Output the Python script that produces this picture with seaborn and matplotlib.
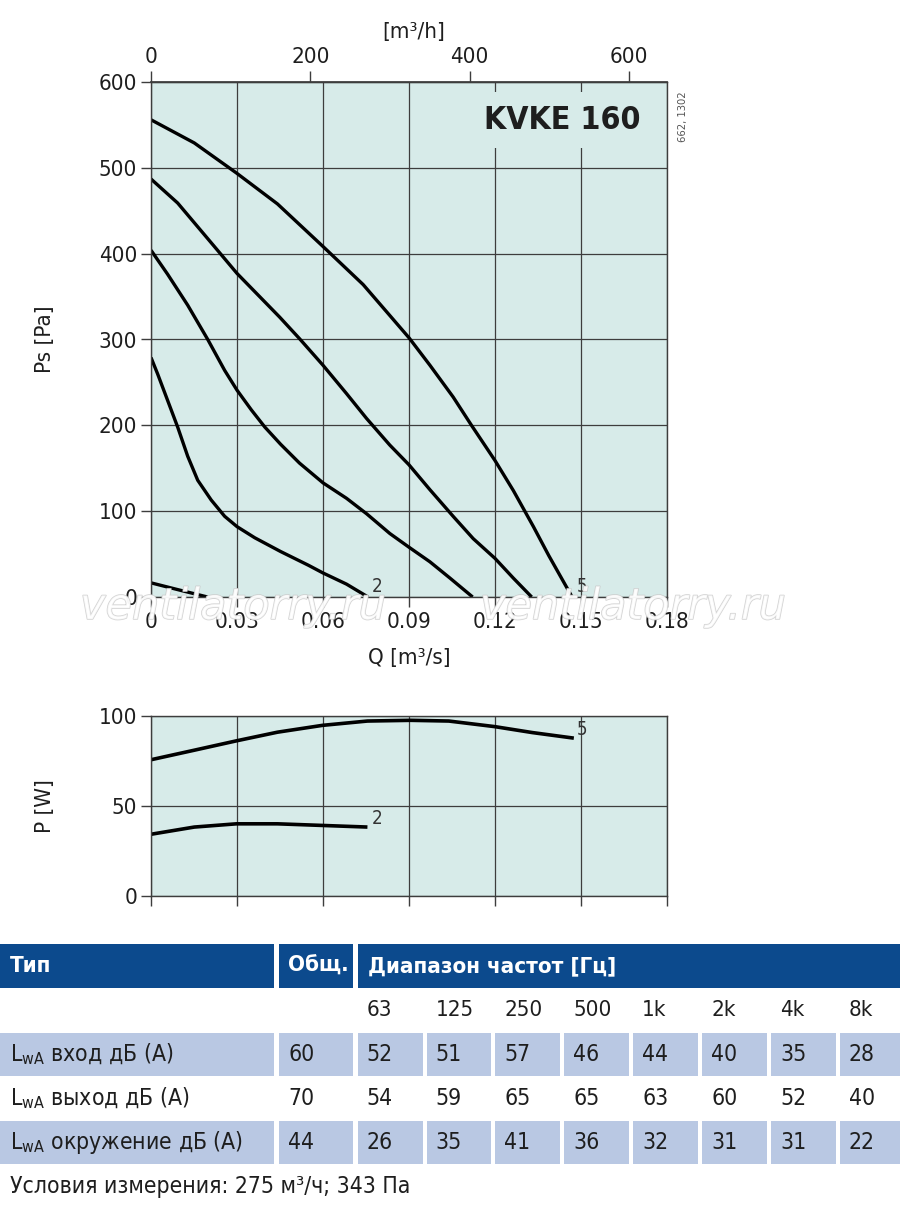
import numpy as np
import pandas as pd
import seaborn as sns
import matplotlib.pyplot as plt
import matplotlib.patheffects as pe
from matplotlib.patches import Rectangle

# Ps-Q curves, speeds 1..5
q1 = [0, 0.0092, 0.0197]
ps1 = [16.5, 8.7, 0]
q2 = [0, 0.0023, 0.0058, 0.0093, 0.0128, 0.0163, 0.0210, 0.0257, 0.0300,
      0.0362, 0.0452, 0.0549, 0.0600, 0.0682, 0.0757]
ps2 = [279, 260, 229, 198, 164, 136, 113, 94, 82, 69, 53, 37, 28, 15, 0]
q3 = [0, 0.0058, 0.0128, 0.0198, 0.0257, 0.0300, 0.0350, 0.0397, 0.0452,
      0.0518, 0.0600, 0.0682, 0.0752, 0.0833, 0.0900, 0.0973,
      0.1043, 0.1122]
ps3 = [404, 376, 340, 300, 264, 241, 218, 198, 178, 156, 133, 115, 97,
       74, 58, 41, 22, 0]
q4 = [0, 0.0093, 0.0232, 0.0300, 0.0449, 0.0518, 0.0600, 0.0682,
      0.0752, 0.0833, 0.0900, 0.0973, 0.1054, 0.1124, 0.1200, 0.1264, 0.1328]
ps4 = [487, 459, 404, 377, 326, 301, 270, 237, 208, 177, 154, 125, 94,
       68, 45, 22, 0]
q5 = [0, 0.0151, 0.0298, 0.0441, 0.0598, 0.0740, 0.0833, 0.0900, 0.0973,
      0.1054, 0.1118, 0.1200, 0.1264, 0.1334, 0.1388, 0.1469]
ps5 = [556, 529, 494, 458, 409, 364, 328, 302, 270, 233, 200, 159, 124, 82,
       48, 0]

# power curves
qp2 = [0, 0.0151, 0.0298, 0.0441, 0.0598, 0.0755]
pw2 = [34.3, 38.3, 40.1, 40.1, 39.2, 38.3]
qp5 = [0, 0.0151, 0.0298, 0.0441, 0.0598, 0.0755, 0.0906, 0.1039, 0.1199, 0.1330, 0.1475]
pw5 = [75.7, 81.0, 86.2, 91.0, 94.8, 97.2, 97.6, 97.2, 94.1, 90.8, 87.7]

# sound table
freq_bands = ['63', '125', '250', '500', '1k', '2k', '4k', '8k']
row_names = ['вход дБ (A)', 'выход дБ (A)', 'окружение дБ (A)']
totals = [60, 70, 44]
inlet = [52, 51, 57, 46, 44, 40, 35, 28]
outlet = [54, 59, 65, 65, 63, 60, 52, 40]
surround = [26, 35, 41, 36, 32, 31, 31, 22]

BG = '#d7ebe9'
GRID = '#3d3d3d'
BLUE = '#0c4a8d'
LIGHT = '#b9c8e3'

sns.set_theme(style='white')
plt.rcParams['font.family'] = ['DejaVu Sans']
plt.rcParams['font.stretch'] = 'condensed'
plt.rcParams['text.color'] = '#1e1e1e'

fig = plt.figure(figsize=(9, 12.14), dpi=100)
H = 1214.0


def frame(ax, ymax, yticks):
    ax.set_facecolor(BG)
    ax.set_xlim(0, 0.18)
    ax.set_ylim(0, ymax)
    ax.set_xticks([0, 0.03, 0.06, 0.09, 0.12, 0.15, 0.18])
    ax.set_yticks(yticks)
    ax.set_yticklabels([str(v) for v in yticks])
    ax.set_axisbelow(True)
    ax.grid(True, color=GRID, lw=0.9)
    for s in ax.spines.values():
        s.set_color(GRID)
        s.set_linewidth(1.0)
    ax.tick_params(direction='out', length=7, width=1, color=GRID,
                   labelsize=16, pad=3, labelcolor='#1e1e1e',
                   left=True, bottom=True)
    ax.set_xlabel('')
    ax.set_ylabel('')


# ---- Ps chart
ax = fig.add_axes([151 / 900, 1 - 597 / H, 516 / 900, 515 / H])
ps_df = pd.concat([pd.DataFrame({'Q': q, 'Ps': p, 'speed': s})
                   for s, q, p in zip('12345', [q1, q2, q3, q4, q5],
                                      [ps1, ps2, ps3, ps4, ps5])])
sns.lineplot(data=ps_df, x='Q', y='Ps', units='speed', estimator=None,
             sort=False, color='black', lw=2.4, solid_capstyle='butt',
             solid_joinstyle='round', legend=False, ax=ax)
frame(ax, 600, [0, 100, 200, 300, 400, 500, 600])
ax.set_xticklabels(['0', '0.03', '0.06', '0.09', '0.12', '0.15', '0.18'])
ax.tick_params(axis='x', pad=4)
ax.text(0.5, -0.118, 'Q [m³/s]', transform=ax.transAxes, ha='center',
        va='center', fontsize=16)
ax.text(-0.205, 0.5, 'Ps [Pa]', transform=ax.transAxes, ha='center',
        va='center', rotation=90, fontsize=16)
ax.text(0.948, 0.926, 'KVKE 160', transform=ax.transAxes, ha='right',
        va='center', fontsize=23, fontweight='bold', zorder=2.2,
        clip_on=True,
        bbox=dict(boxstyle='square,pad=0.4', facecolor=BG, edgecolor='none'))
ax.text(q2[-1] + 0.0032, 12, '2', fontsize=13.5, ha='center', va='center',
        color='#333333')
ax.text(q5[-1] + 0.0034, 12, '5', fontsize=13.5, ha='center', va='center',
        color='#333333')

sec = ax.secondary_xaxis('top', functions=(lambda q: q * 3600,
                                           lambda h: h / 3600))
sec.set_xticks([0, 200, 400, 600])
sec.set_xticklabels(['0', '200', '400', '600'])
sec.tick_params(direction='out', length=8, width=1, color=GRID,
                labelsize=16, pad=3, labelcolor='#1e1e1e')
sec.spines['top'].set_color(GRID)
ax.text(0.51, 1.097, '[m³/h]', transform=ax.transAxes, ha='center',
        va='center', fontsize=16)

fig.text(683 / 900, 1 - 117 / H, '662, 1302', rotation=90, ha='center',
         va='center', fontsize=8, color='#555555')

# ---- power chart
axp = fig.add_axes([151 / 900, 1 - 896 / H, 516 / 900, 180 / H])
pw_df = pd.concat([pd.DataFrame({'Q': q, 'P': p, 'speed': s})
                   for s, q, p in zip('25', [qp2, qp5], [pw2, pw5])])
sns.lineplot(data=pw_df, x='Q', y='P', units='speed', estimator=None,
             sort=False, color='black', lw=2.6, solid_capstyle='butt',
             solid_joinstyle='round', legend=False, ax=axp)
frame(axp, 100, [0, 50, 100])
axp.tick_params(axis='x', labelbottom=False)
axp.text(-0.205, 0.5, 'P [W]', transform=axp.transAxes, ha='center',
         va='center', rotation=90, fontsize=16)
axp.text(qp2[-1] + 0.0032, pw2[-1] + 5, '2', fontsize=13.5, ha='center',
         va='center', color='#333333')
axp.text(qp5[-1] + 0.0028, pw5[-1] + 4.6, '5', fontsize=13.5, ha='center',
         va='center', color='#333333')

# ---- watermark
for x0 in (80, 480):
    fig.text(x0 / 900, 1 - 619 / H, 'ventilatorry.ru', fontsize=31,
             fontstretch='normal', style='italic', color='white', alpha=0.8,
             ha='left', va='baseline', zorder=10,
             path_effects=[pe.Stroke(linewidth=1.1, foreground='#c8c8c8'),
                           pe.Normal()])

# ---- sound table (pixel coordinates)
tab = fig.add_axes([0, 0, 1, 274 / H])
tab.set_xlim(0, 900)
tab.set_ylim(H, 940)
tab.axis('off')

col_left = [0, 279] + [357.6 + i * 68.9 for i in range(8)]
col_w = [274.4, 74] + [min(64.9, 900 - (357.6 + i * 68.9)) for i in range(8)]

# header band
for x0, w in [(0, 274.4), (279, 74), (357.6, 542.4)]:
    tab.add_patch(Rectangle((x0, 944), w, 44, facecolor=BLUE, edgecolor='none'))
tab.text(10, 966, 'Тип', color='white', fontsize=16, fontweight='bold', va='center')
tab.text(288, 966, 'Общ.', color='white', fontsize=16, fontweight='bold', va='center')
tab.text(368, 966, 'Диапазон частот [Гц]', color='white', fontsize=16,
         fontweight='bold', va='center')

for i, f in enumerate(freq_bands):
    tab.text(col_left[i + 2] + 9, 1010, f, fontsize=16, va='center')

rows = [inlet, outlet, surround]
row_top = [1033, 1077, 1121]
for r, (name, tot, vals) in enumerate(zip(row_names, totals, rows)):
    yc = row_top[r] + 21.5
    if r != 1:
        for x0, w in zip(col_left, col_w):
            tab.add_patch(Rectangle((x0, row_top[r]), w, 43, facecolor=LIGHT,
                                    edgecolor='none'))
    tab.text(10, yc, 'L$_\\mathregular{wA}$ ' + name, fontsize=16.5, va='center')
    tab.text(col_left[1] + 9, yc, str(tot), fontsize=16.5, va='center')
    for i, v in enumerate(vals):
        tab.text(col_left[i + 2] + 9, yc, str(v), fontsize=16.5, va='center')

tab.text(10, 1187, 'Условия измерения: 275 м³/ч; 343 Па', fontsize=16.5,
         va='center')

fig.savefig('out.png', dpi=100, facecolor='white')
